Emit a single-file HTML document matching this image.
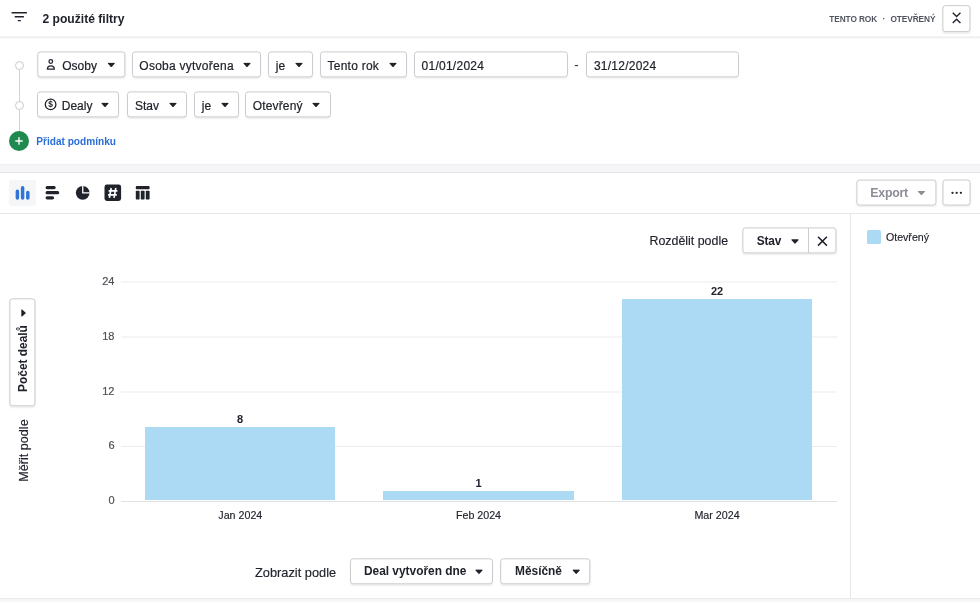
<!DOCTYPE html>
<html><head><meta charset="utf-8">
<style>
*{box-sizing:border-box;margin:0;padding:0}
html,body{width:980px;height:602px;overflow:hidden;background:#fff;font-family:"Liberation Sans",sans-serif;color:#21232c}
.abs{position:absolute}
.btn{position:absolute;height:26px;border:1px solid #cacccf;border-radius:3.2px;background:#fff;font-size:12px;line-height:25px;-webkit-text-stroke:.2px #21232c;color:#21232c;white-space:nowrap;box-shadow:0 1px 1.5px rgba(33,35,44,.07)}
.btn .t{position:absolute;top:1.7px;margin-left:.35px}
.car{position:absolute;top:9.5px;right:9.1px;width:8px;height:5px}
.inp{position:absolute;height:26px;border:1px solid #cacccf;border-radius:3.2px;background:#fff;font-size:12px;line-height:25px;padding-top:1.7px;letter-spacing:.25px;-webkit-text-stroke:.2px #21232c;padding-left:6.6px;box-shadow:0 1px 2px rgba(33,35,44,.05)}
.grid{position:absolute;left:121px;width:716px;height:1px;background:#ebecee}
.yl{position:absolute;width:30px;left:84.5px;text-align:right;font-size:11px;color:#4c505a;line-height:12px;-webkit-text-stroke:.2px #4c505a;transform:translateY(-.9px)}
.bar{position:absolute;background:#acdaf4}
.vl{position:absolute;font-size:11px;font-weight:bold;text-align:center;width:40px;line-height:12px;color:#21232c}
.xl{position:absolute;-webkit-text-stroke:.15px #21232c;font-size:10.7px;text-align:center;width:100px;line-height:12px;color:#21232c}
.b{font-weight:bold;font-size:11.9px;-webkit-text-stroke:0 !important}
.btn.b .t{top:.2px}
#w{position:absolute;left:0;top:0;width:980px;height:602px;will-change:transform}
</style></head><body><div id="w">
<svg width="0" height="0" style="position:absolute"><defs>
<symbol id="c" viewBox="0 0 8 5"><path d="M0.9 0.3h6.2a.5.5 0 0 1 .38.83L4.4 4.5a.55.55 0 0 1-.8 0L.52 1.13A.5.5 0 0 1 .9.3z"/></symbol>
</defs></svg>

<!-- header -->
<div class="abs" style="left:0;top:36px;width:980px;height:2px;background:#efeff1;transform:translateY(.4px)"></div>
<svg class="abs" style="left:11px;top:11px" width="17" height="12" viewBox="0 0 17 12"><path d="M0.6 1.7h15.3M3.7 5.7h9.2M6.8 9.6h3" stroke="#21232c" stroke-width="1.35" fill="none"/></svg>
<div class="abs" style="left:42.5px;top:11.6px;font-size:12.1px;font-weight:bold;line-height:15px;color:#21232c">2 použité filtry</div>
<div class="abs" style="left:829.3px;top:13.5px;font-size:8.3px;font-weight:bold;line-height:11px;color:#51555f;letter-spacing:-.1px;white-space:nowrap">TENTO ROK</div>
<div class="abs" style="left:882.5px;top:13.5px;font-size:8.3px;font-weight:bold;line-height:11px;color:#51555f">·</div>
<div class="abs" style="left:890.5px;top:13.5px;font-size:8.3px;font-weight:bold;line-height:11px;color:#51555f;letter-spacing:-.1px;white-space:nowrap">OTEVŘENÝ</div>
<div class="btn" style="left:942px;top:5px;transform:translate(.4px,.1px);width:28.4px;height:26.6px"></div>
<svg class="abs" style="left:950px;top:10px" width="14" height="16" viewBox="0 0 14 16"><path d="M2.75 2.8l3.85 3.75 3.85-3.75M2.75 13l3.85-3.75 3.85 3.75" stroke="#21232c" stroke-width="1.4" fill="none"/></svg>

<!-- filter rows -->
<div class="abs" style="left:18.8px;top:66px;width:1.2px;height:70px;background:#d0d2d7"></div>
<div class="abs" style="left:14.8px;top:61px;width:9px;height:9px;border:1.3px solid #c6c8ce;border-radius:50%;background:#fff"></div>
<div class="abs" style="left:14.8px;top:101px;width:9px;height:9px;border:1.3px solid #c6c8ce;border-radius:50%;background:#fff"></div>

<div class="btn" style="left:37px;top:51px;transform:translate(.3px,.4px);width:87.6px"><span class="t" style="left:23.6px">Osoby</span><svg class="car"><use href="#c" fill="#21232c"/></svg></div>
<svg class="abs" style="left:46px;top:58.5px" width="10" height="12" viewBox="0 0 10 12"><circle cx="4.8" cy="2.5" r="1.8" fill="none" stroke="#21232c" stroke-width="1.25"/><path d="M1.4 10.2a3.45 3.3 0 0 1 6.9 0z" fill="none" stroke="#21232c" stroke-width="1.3" stroke-linejoin="round"/></svg>
<div class="btn" style="left:132px;top:51px;transform:translateY(.4px);width:129px"><span class="t" style="left:6px;letter-spacing:.25px">Osoba vytvořena</span><svg class="car"><use href="#c" fill="#21232c"/></svg></div>
<div class="btn" style="left:268.3px;top:51px;transform:translateY(.4px);width:44.5px"><span class="t" style="left:6px;letter-spacing:.1px">je</span><svg class="car"><use href="#c" fill="#21232c"/></svg></div>
<div class="btn" style="left:320px;top:51px;transform:translateY(.4px);width:87.2px"><span class="t" style="left:6.2px;letter-spacing:.24px">Tento rok</span><svg class="car"><use href="#c" fill="#21232c"/></svg></div>
<div class="inp" style="left:414px;top:51px;transform:translateY(.4px);width:153.5px">01/01/2024</div>
<div class="abs" style="left:574.3px;top:57.8px;font-size:13px;line-height:14px">-</div>
<div class="inp" style="left:586.3px;top:51px;transform:translateY(.4px);width:153.2px">31/12/2024</div>

<div class="btn" style="left:37px;top:91px;transform:translateY(.4px);width:82.3px"><span class="t" style="left:23.4px">Dealy</span><svg class="car"><use href="#c" fill="#21232c"/></svg></div>
<svg class="abs" style="left:44.3px;top:97.7px" width="13" height="13" viewBox="0 0 13 13"><circle cx="6.6" cy="6.4" r="5.3" fill="none" stroke="#21232c" stroke-width="1.3"/><text x="6.6" y="9.4" font-family="Liberation Sans" font-weight="bold" font-size="8.3" text-anchor="middle" fill="#21232c">$</text></svg>
<div class="btn" style="left:127.3px;top:91px;transform:translateY(.4px);width:59.3px"><span class="t" style="left:6.3px">Stav</span><svg class="car"><use href="#c" fill="#21232c"/></svg></div>
<div class="btn" style="left:193.8px;top:91px;transform:translateY(.4px);width:44.8px"><span class="t" style="left:6.7px;letter-spacing:.1px">je</span><svg class="car"><use href="#c" fill="#21232c"/></svg></div>
<div class="btn" style="left:245.4px;top:91px;transform:translateY(.4px);width:85.5px"><span class="t" style="left:6px;letter-spacing:.16px">Otevřený</span><svg class="car" style="right:9.9px"><use href="#c" fill="#21232c"/></svg></div>

<div class="abs" style="left:9px;top:131px;width:20px;height:20px;border-radius:50%;background:#1e8a4d"></div>
<svg class="abs" style="left:14px;top:136px" width="10" height="10" viewBox="0 0 10 10"><path d="M5 1.3v7.4M1.3 5h7.4" stroke="#fff" stroke-width="1.35"/></svg>
<div class="abs" style="left:36.3px;top:135.8px;font-size:10.1px;font-weight:bold;line-height:12px;color:#2a6ed8;white-space:nowrap">Přidat podmínku</div>

<!-- grey band -->
<div class="abs" style="left:0;top:164px;width:980px;height:9px;background:#f5f5f7;border-top:1px solid #eeeef0;border-bottom:1px solid #e4e5e7"></div>

<!-- toolbar -->
<div class="abs" style="left:0;top:213px;width:980px;height:1px;background:#e6e7e9"></div>
<div class="abs" style="left:9px;top:179.6px;width:27px;height:26.6px;background:#f5f6f7;border-radius:3px"></div>
<svg class="abs" style="left:10px;top:180px" width="150" height="26" viewBox="0 0 150 26">
 <g stroke="#3174d8" stroke-width="3.5" stroke-linecap="round" fill="none"><path d="M7.4 11.3v6.7M12.6 7.7v10.3M17.8 12.4v5.6"/></g>
 <g stroke="#21232c" stroke-width="3.3" stroke-linecap="round" fill="none"><path d="M37.2 7.6h6.9M37.2 12.7h10.4M37.2 17.8h5.3"/></g>
 <circle cx="72.7" cy="12.8" r="6.9" fill="#21232c"/>
 <path d="M72.75 5.5v7.3h7.2" stroke="#fff" stroke-width="1.3" fill="none"/>
 <rect x="94.5" y="4.5" width="16.6" height="16.4" rx="2.4" fill="#21232c"/>
 <g stroke="#fff" stroke-width="1.65" fill="none"><path d="M101.2 8l-1.8 9.8M105.8 8l-1.8 9.8M98.6 10.9h8.8M98 14.9h8.8"/></g>
 <g fill="#21232c"><rect x="125.8" y="6.1" width="13.8" height="3.1" rx=".8"/><rect x="125.8" y="10.8" width="3.8" height="8.8" rx=".8"/><rect x="130.8" y="10.8" width="3.8" height="8.8" rx=".8"/><rect x="135.8" y="10.8" width="3.8" height="8.8" rx=".8"/></g>
</svg>

<div class="btn" style="left:856px;top:179px;transform:translate(.4px,.6px);width:80px;height:26px;color:#8b8e97;font-weight:bold;font-size:12.4px;-webkit-text-stroke:0"><span class="t" style="left:12.6px;top:-.4px;letter-spacing:-.3px">Export</span><svg class="car" style="top:9.5px;right:9.6px"><use href="#c" fill="#8b8e97"/></svg></div>
<div class="btn" style="left:942px;top:179px;transform:translate(.5px,.5px);width:28.2px;height:26px"></div>
<svg class="abs" style="left:950px;top:190.3px" width="14" height="6" viewBox="0 0 14 6"><g fill="#21232c"><circle cx="2.5" cy="2.8" r="1.15"/><circle cx="6.7" cy="2.8" r="1.15"/><circle cx="10.9" cy="2.8" r="1.15"/></g></svg>

<!-- divider & legend -->
<div class="abs" style="left:850px;top:214px;width:1px;height:384px;background:#e6e7e9"></div>
<div class="abs" style="left:867.2px;top:230.2px;width:13.6px;height:13.5px;background:#acdaf4;border-radius:1.5px"></div>
<div class="abs" style="left:886px;top:230.5px;font-size:10.6px;line-height:12px;color:#21232c;-webkit-text-stroke:.15px #21232c">Otevřený</div>

<!-- split by -->
<div class="abs" style="left:649.5px;top:233.5px;font-size:12.4px;line-height:15px;white-space:nowrap;-webkit-text-stroke:.15px #21232c">Rozdělit podle</div>
<div class="btn" style="left:742px;top:227px;transform:translate(.4px,.4px);width:93.7px;height:26.3px"></div>
<div class="abs" style="left:808px;top:228px;width:1px;height:25px;background:#cacccf"></div>
<div class="abs b" style="left:756.8px;top:233.5px;line-height:15px;letter-spacing:-.2px">Stav</div>
<svg class="abs" style="left:790.6px;top:238.7px" width="8" height="5"><use href="#c" fill="#21232c"/></svg>
<svg class="abs" style="left:816px;top:234.5px" width="13" height="13" viewBox="0 0 13 13"><path d="M2 1.7l8.9 8.9M10.9 1.7l-8.9 8.9" stroke="#21232c" stroke-width="1.5" fill="none"/></svg>

<!-- y axis picker -->
<div class="btn" style="left:9px;top:298px;transform:translate(.4px,.3px);width:26.3px;height:108px"></div>
<svg class="abs" style="left:20.8px;top:308.8px" width="5" height="8" viewBox="0 0 5 8"><path d="M0.3 0.9v6.2a.5.5 0 0 0 .83.38L4.5 4.4a.55.55 0 0 0 0-.8L1.13.52A.5.5 0 0 0 .3.9z" fill="#21232c"/></svg>
<div class="abs b" style="left:-26.7px;top:350.8px;width:100px;height:15px;line-height:15px;text-align:center;transform:rotate(-90deg);white-space:nowrap">Počet dealů</div>
<div class="abs" style="left:-26.5px;top:443.3px;width:100px;height:15px;line-height:15px;font-size:12.6px;text-align:center;transform:rotate(-90deg);white-space:nowrap;-webkit-text-stroke:.15px #21232c">Měřit podle</div>

<!-- chart -->
<div class="grid" style="top:281px;transform:translateY(.4px)"></div>
<div class="grid" style="top:336px;transform:translateY(.5px)"></div>
<div class="grid" style="top:391px;transform:translateY(.5px)"></div>
<div class="grid" style="top:446px"></div>
<div class="grid" style="top:501px;background:#e0e1e4;height:1.3px"></div>
<div class="yl" style="top:275.5px">24</div>
<div class="yl" style="top:330.5px">18</div>
<div class="yl" style="top:385.5px">12</div>
<div class="yl" style="top:440px">6</div>
<div class="yl" style="top:495px">0</div>
<div class="bar" style="left:145px;top:427px;width:190px;height:73px"></div>
<div class="bar" style="left:383px;top:491.3px;width:191px;height:8.7px"></div>
<div class="bar" style="left:622px;top:299px;width:190px;height:201px"></div>
<div class="vl" style="left:220px;top:413px">8</div>
<div class="vl" style="left:458.5px;top:477px">1</div>
<div class="vl" style="left:697px;top:285px">22</div>
<div class="xl" style="left:190.3px;top:509px">Jan 2024</div>
<div class="xl" style="left:428.5px;top:509px">Feb 2024</div>
<div class="xl" style="left:667px;top:509px">Mar 2024</div>

<!-- bottom -->
<div class="abs" style="left:255px;top:564.8px;font-size:12.8px;line-height:15px;white-space:nowrap;-webkit-text-stroke:.15px #21232c">Zobrazit podle</div>
<div class="btn b" style="left:350px;top:558px;transform:translateY(.3px);width:143.2px"><span class="t" style="left:12.6px">Deal vytvořen dne</span><svg class="car"><use href="#c" fill="#21232c"/></svg></div>
<div class="btn b" style="left:500px;top:558px;transform:translate(.2px,.3px);width:89.7px"><span class="t" style="left:13.5px">Měsíčně</span><svg class="car"><use href="#c" fill="#21232c"/></svg></div>
<div class="abs" style="left:0;top:598px;width:980px;height:4px;background:#f6f6f8;border-top:1px solid #e9eaec"></div>
</div></body></html>
